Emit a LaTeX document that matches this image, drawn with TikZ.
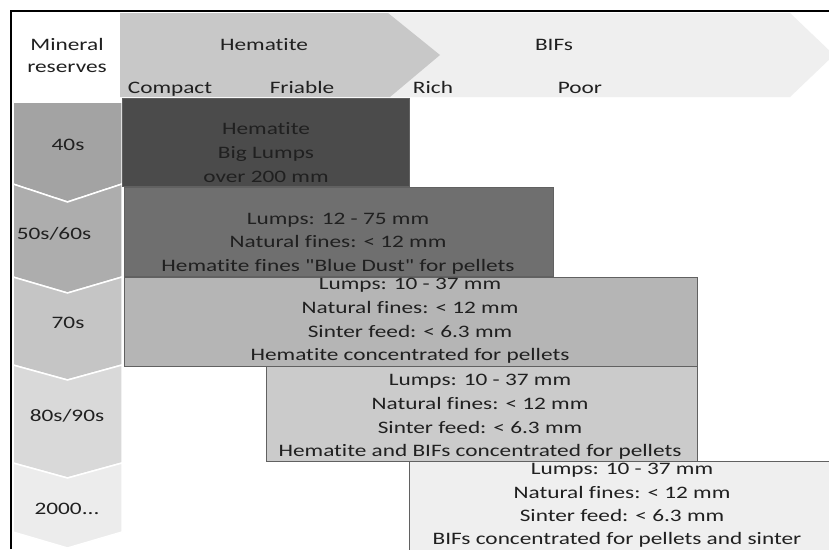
\documentclass[tikz,border=0pt]{standalone}
\usepackage{fontspec}
\setmainfont{Carlito}[FakeStretch=1.33, Ligatures={NoCommon,TeXOff}]
\definecolor{hdrdark}{HTML}{C8C8C8}
\definecolor{hdrlight}{HTML}{EFEFEF}
\definecolor{cA}{HTML}{A3A3A3}
\definecolor{cB}{HTML}{ADADAD}
\definecolor{cC}{HTML}{C5C5C5}
\definecolor{cD}{HTML}{D9D9D9}
\definecolor{cE}{HTML}{ECECEC}
\definecolor{bA}{HTML}{4B4B4B}
\definecolor{bB}{HTML}{6F6F6F}
\definecolor{bC}{HTML}{B5B5B5}
\definecolor{bD}{HTML}{CBCBCB}
\definecolor{bE}{HTML}{EFEFEF}
\definecolor{txt}{HTML}{202020}
\begin{document}
\begin{tikzpicture}[x=1pt,y=-1pt,
  ln/.style={font=\fontsize{17.5}{22}\selectfont, text=txt, inner sep=0pt, anchor=base},
  boxshape/.style={draw=black!62, line width=0.8pt},
  chevshape/.style={draw=white, line width=1.5pt, line join=miter}]
\useasboundingbox (0,0) rectangle (829,549);
\clip (0,0) rectangle (829,549);
\fill[white] (0,0) rectangle (829,549);
% header arrows
\fill[hdrlight] (380,13) -- (790,13) -- (834,55) -- (790,97) -- (380,97) -- cycle;
\fill[hdrdark] (120,13) -- (388,13) -- (440,55) -- (390,97) -- (120,97) -- cycle;
% left chevrons
\path[chevshape, fill=cA] (13,102) -- (122,102) -- (122,184) -- (67.5,202) -- (13,184) -- cycle;
\path[chevshape, fill=cB] (13,184) -- (67.5,202) -- (122,184) -- (122,277) -- (67.5,293) -- (13,277) -- cycle;
\path[chevshape, fill=cC] (13,277) -- (67.5,293) -- (122,277) -- (122,365) -- (67.5,380) -- (13,365) -- cycle;
\path[chevshape, fill=cD] (13,365) -- (67.5,380) -- (122,365) -- (122,463) -- (67.5,478) -- (13,463) -- cycle;
\path[chevshape, fill=cE] (13,463) -- (67.5,478) -- (122,463) -- (122,532) -- (67.5,548) -- (13,532) -- cycle;
% boxes
\path[boxshape, fill=bA] (122,98) rectangle (409,186);
\path[boxshape, fill=bB] (124,187) rectangle (553,276);
\path[boxshape, fill=bC] (124,277) rectangle (697,366);
\path[boxshape, fill=bD] (266,366) rectangle (697,461);
\path[boxshape, fill=bE] (409,461) rectangle (840,560);
% frame
\draw[line width=2pt, black] (10.5,549) -- (10.5,10.5) -- (829,10.5);
% header labels
\node[ln] (mr1) at (67,50) {Mineral};
\node[ln] (mr2) at (67,72) {reserves};
\node[ln] (hem) at (264,50) {Hematite};
\node[ln] (bifs) at (554,50) {BIFs};
\node[ln] (compact) at (170,93) {Compact};
\node[ln] (friable) at (302,93) {Friable};
\node[ln] (rich) at (433,93) {Rich};
\node[ln] (poor) at (580,93) {Poor};
% period labels
\node[ln] (p40) at (68,150) {40s};
\node[ln] (p50) at (54,239) {50s/60s};
\node[ln] (p70) at (68,328) {70s};
\node[ln] (p80) at (67,421) {80s/90s};
\node[ln] (p00) at (67,514) {2000...};
% box 1
\node[ln] (t1a) at (266,134) {Hematite};
\node[ln] (t1b) at (266,158) {Big Lumps};
\node[ln] (t1c) at (266,182) {over 200 mm};
% box 2
\node[ln] (t2a) at (338,224) {Lumps: 12 - 75 mm};
\node[ln] (t2b) at (338,247.5) {Natural fines: < 12 mm};
\node[ln] (t2c) at (338,271) {Hematite fines "Blue Dust" for pellets};
% box 3
\node[ln] (t3a) at (410,289) {Lumps: 10 - 37 mm};
\node[ln] (t3b) at (410,313) {Natural fines: < 12 mm};
\node[ln] (t3c) at (410,337) {Sinter feed: < 6.3 mm};
\node[ln] (t3d) at (410,360) {Hematite concentrated for pellets};
% box 4
\node[ln] (t4a) at (480,385) {Lumps: 10 - 37 mm};
\node[ln] (t4b) at (480,409) {Natural fines: < 12 mm};
\node[ln] (t4c) at (480,433) {Sinter feed: < 6.3 mm};
\node[ln] (t4d) at (480,456) {Hematite and BIFs concentrated for pellets};
% box 5
\node[ln] (t5a) at (622,474) {Lumps: 10 - 37 mm};
\node[ln] (t5b) at (622,498) {Natural fines: < 12 mm};
\node[ln] (t5c) at (622,521.5) {Sinter feed: < 6.3 mm};
\node[ln] (t5d) at (617,544.5) {BIFs concentrated for pellets and sinter};
\end{tikzpicture}
\end{document}
